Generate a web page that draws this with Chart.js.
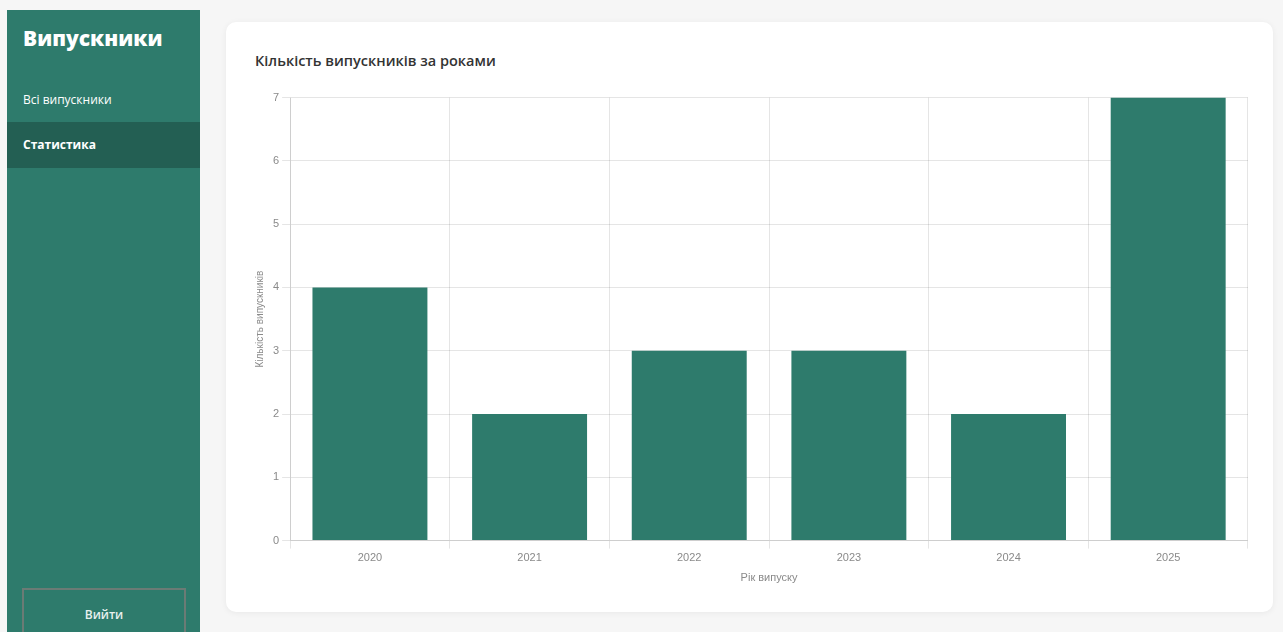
<!DOCTYPE html>
<html lang="uk">
<head>
<meta charset="utf-8">
<script src="https://cdn.jsdelivr.net/npm/chart.js@4.4.1/dist/chart.umd.min.js"></script>
<style>
  html, body { margin: 0; padding: 0; }
  body { width: 1283px; height: 632px; background: #f6f6f6; font-family: "Open Sans", "Noto Sans", sans-serif; position: relative; overflow: hidden; }
  .sidebar { position: absolute; left: 7px; top: 10px; width: 193px; height: 640px; background: #2e7b6c; color: #fff; }
  .sidebar h2 { margin: 0; position: absolute; left: 16px; top: 14px; font-size: 21px; font-weight: 800; }
  .nav { position: absolute; left: 0; width: 193px; height: 46px; line-height: 46px; font-size: 12px; padding-left: 16px; box-sizing: border-box; }
  .nav.all { top: 67px; }
  .nav.active { top: 112px; background: #235f53; font-weight: 700; }
  .logout { position: absolute; left: 15px; top: 578px; width: 164px; height: 60px; border: 2px solid #6b7b75; box-sizing: border-box; text-align: center; line-height: 50px; font-size: 12px; font-weight: 600; color: #e8f0ee; }
  .card { position: absolute; left: 226px; top: 22px; width: 1047px; height: 590px; background: #fff; border-radius: 10px; box-shadow: 0 1px 6px rgba(0,0,0,0.06); }
  .card h3 { position: absolute; left: 29px; top: 29px; margin: 0; font-size: 14.5px; font-weight: 600; color: #333; }
  .chart-wrap { position: absolute; left: 24px; top: 66px; width: 998px; height: 501px; }
</style>
</head>
<body>
<div class="sidebar">
  <h2>Випускники</h2>
  <div class="nav all">Всі випускники</div>
  <div class="nav active">Статистика</div>
  <div class="logout">Вийти</div>
</div>
<div class="card">
  <h3>Кількість випускників за роками</h3>
  <div class="chart-wrap"><canvas id="c"></canvas></div>
</div>
<script>
const years = ["2020", "2021", "2022", "2023", "2024", "2025"];
const graduates = [4, 2, 3, 3, 2, 7];
const yTitle = "Кількість випускників";
const xTitle = "Рік випуску";

new Chart(document.getElementById('c'), {
  type: 'bar',
  data: {
    labels: years,
    datasets: [{ label: yTitle, data: graduates, backgroundColor: '#2e7b6c' }]
  },
  options: {
    responsive: true,
    maintainAspectRatio: false,
    animation: false,
    plugins: { legend: { display: false }, tooltip: { enabled: false } },
    scales: {
      y: {
        beginAtZero: true,
        max: 7,
        ticks: { stepSize: 1, color: '#8a8a8a', font: { size: 11 } },
        title: { display: true, text: yTitle, color: '#8a8a8a', font: { size: 10 } }
      },
      x: {
        ticks: { color: '#8a8a8a', font: { size: 11 } },
        title: { display: true, text: xTitle, color: '#8a8a8a', font: { size: 11 } }
      }
    }
  }
});
</script>
</body>
</html>
